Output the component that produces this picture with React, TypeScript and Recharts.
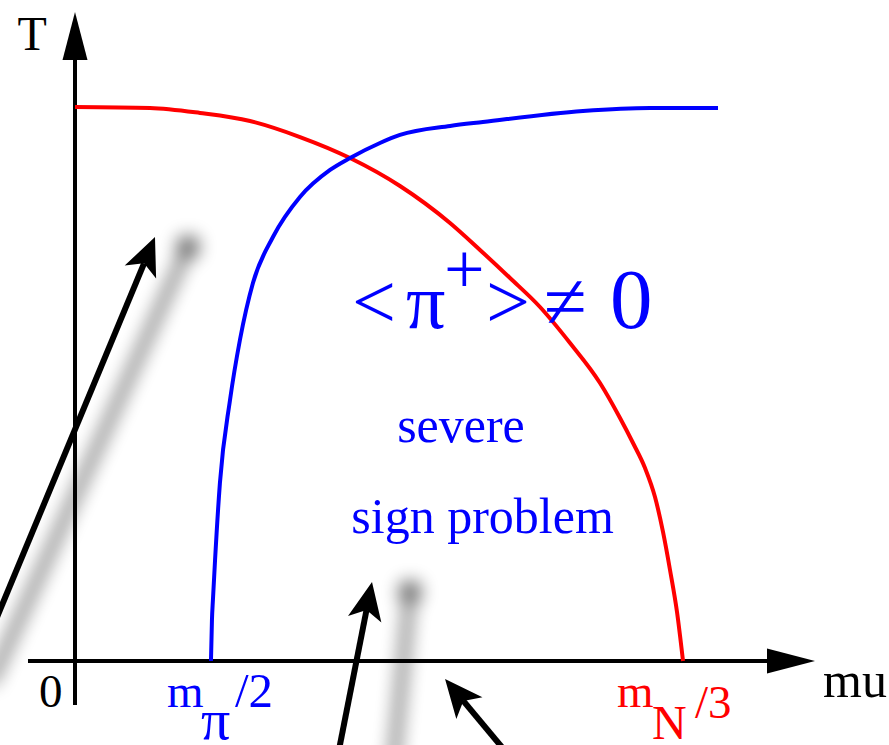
import React from 'react';
import { LineChart, Line, XAxis, YAxis, ReferenceLine, ReferenceDot } from 'recharts';

// Chemical potential mu (MeV) and temperature (T / T0) along the two boundaries
const RED_MU = [0, 38.61, 64.35, 90.09, 115.83, 141.57, 167.31, 193.05, 208.49, 223.94, 239.38, 254.83, 270.27, 280.57, 287.26, 293.44, 298.58, 302.7, 306.31, 309.91, 313];
const RED_T = [1.0, 0.9982, 0.9892, 0.9747, 0.9458, 0.9079, 0.8574, 0.7906, 0.7419, 0.6913, 0.639, 0.574, 0.5018, 0.4386, 0.3935, 0.3484, 0.296, 0.2329, 0.1643, 0.0884, 0];
const BLUE_MU = [70, 70.5, 71, 72.1, 74.6, 79.8, 84.9, 91.6, 101.9, 115.8, 131.3, 141.6, 157, 167.3, 193.1, 210, 261.5, 296, 331];
const BLUE_T = [0, 0.074, 0.1101, 0.1823, 0.3213, 0.4711, 0.5794, 0.6823, 0.7653, 0.8375, 0.8863, 0.9079, 0.935, 0.9495, 0.9657, 0.9729, 0.9928, 0.9982, 0.9982];

// x-axis tick positions: 0, m_pi/2, m_N/3
const TICK_MU = [0, 70, 313];
const TICK_TEXT = [['0'], ['m', 'π', '/2'], ['m', 'N', '/3']];

// axis extents
const MU_MIN = -38.61;
const MU_MAX = 419.04;
const T_MAX = 1.1931;
const Y_AXIS_T = [-0.0794, 1.1715];
const X_AXIS_MU = [-24.2, 380.95];

// pointer arrows: tail (mu, T) -> head (mu, T), with the soft shadow each one casts
const POINTERS = [
  { from: [-48.9, 0.0054], to: [41.18, 0.7653], shadowFrom: [-43.76, -0.0415], shadowTo: [58.17, 0.7473] },
  { from: [133.85, -0.1968], to: [152.9, 0.1426], shadowFrom: [163.7, -0.1968], shadowTo: [172.46, 0.1245] },
  { from: [229.6, -0.1968], to: [190.5, -0.0325], shadowFrom: null, shadowTo: null },
];

const redData = RED_MU.map((mu, i) => ({ mu, T: RED_T[i] }));
const blueData = BLUE_MU.map((mu, i) => ({ mu, T: BLUE_T[i] }));

const SERIF = '"Liberation Serif", "Times New Roman", serif';
const BLUE = '#0000ff';
const RED = '#ff0000';

function arrowPath(x1: number, y1: number, x2: number, y2: number, L: number, W: number, notch: number) {
  const dx = x2 - x1;
  const dy = y2 - y1;
  const len = Math.hypot(dx, dy) || 1;
  const ux = dx / len;
  const uy = dy / len;
  const px = -uy;
  const py = ux;
  const bx = x2 - ux * L;
  const by = y2 - uy * L;
  const nx = x2 - ux * L * notch;
  const ny = y2 - uy * L * notch;
  const head = `M${x2},${y2} L${bx + px * W},${by + py * W} L${nx},${ny} L${bx - px * W},${by - py * W} Z`;
  return { head, sx: nx, sy: ny };
}

function makeArrow(L: number, W: number, notch: number, width: number) {
  return (p: any) => {
    const { x1, y1, x2, y2 } = p;
    const a = arrowPath(x1, y1, x2, y2, L, W, notch);
    return (
      <g>
        <line x1={x1} y1={y1} x2={a.sx} y2={a.sy} stroke="#000" strokeWidth={width} />
        <path d={a.head} fill="#000" />
      </g>
    );
  };
}

// blurred grey streak ending in a soft blob
function makeShadow(id: string) {
  return (p: any) => {
    const { x1, y1, x2, y2 } = p;
    return (
      <g>
        <defs>
          <filter id={id} filterUnits="userSpaceOnUse" x={-200} y={-200} width={1300} height={1200}>
            <feGaussianBlur stdDeviation={9} />
          </filter>
        </defs>
        <g filter={`url(#${id})`} opacity={0.65}>
          <line x1={x1} y1={y1} x2={x2} y2={y2} stroke="#000" strokeWidth={8} />
          <circle cx={x2} cy={y2} r={11} fill="#000" />
        </g>
      </g>
    );
  };
}

const TickLabel = (props: any) => {
  const { x, y, index } = props;
  const parts = TICK_TEXT[index] || [];
  if (index === 0) {
    return (
      <text x={x - 36} y={y + 46} fontFamily={SERIF} fontSize={47} fill="#000">
        {parts[0]}
      </text>
    );
  }
  if (index === 1) {
    return (
      <g fill={BLUE} fontFamily={SERIF}>
        <text x={x - 44} y={y + 46} fontSize={47}>{parts[0]}</text>
        <text x={x - 10} y={y + 78} fontSize={58}>{parts[1]}</text>
        <text x={x + 24} y={y + 46} fontSize={49}>{parts[2]}</text>
      </g>
    );
  }
  return (
    <g fill={RED} fontFamily={SERIF}>
      <text x={x - 66} y={y + 46} fontSize={47}>{parts[0]}</text>
      <text x={x - 31} y={y + 78} fontSize={48}>{parts[1]}</text>
      <text x={x + 12} y={y + 57} fontSize={47}>{parts[2]}</text>
    </g>
  );
};

const textShape = (content: (cx: number, cy: number) => React.ReactElement) => (p: any) => content(p.cx, p.cy);

export default function App() {
  return (
    <div style={{ position: 'absolute', left: 0, top: 0, width: 889, height: 745, background: '#fff' }}>
      <LineChart width={889} height={745} margin={{ top: 0, right: 0, bottom: 0, left: 0 }}>
        <XAxis
          type="number"
          dataKey="mu"
          domain={[MU_MIN, MU_MAX]}
          ticks={TICK_MU}
          interval={0}
          height={84}
          axisLine={false}
          tickLine={false}
          tickSize={0}
          tickMargin={0}
          tick={<TickLabel />}
        />
        <YAxis hide type="number" dataKey="T" domain={[0, T_MAX]} />

        {POINTERS.filter((a) => a.shadowFrom && a.shadowTo).map((a, i) => (
          <ReferenceLine
            key={`shd${i}`}
            ifOverflow="visible"
            segment={[{ x: a.shadowFrom![0], y: a.shadowFrom![1] }, { x: a.shadowTo![0], y: a.shadowTo![1] }]}
            shape={makeShadow(`shadow${i}`)}
          />
        ))}

        {POINTERS.map((a, i) => (
          <ReferenceLine
            key={`ptr${i}`}
            ifOverflow="visible"
            segment={[{ x: a.from[0], y: a.from[1] }, { x: a.to[0], y: a.to[1] }]}
            shape={makeArrow(38, 17, 0.75, 6)}
          />
        ))}

        <ReferenceLine
          ifOverflow="visible"
          segment={[{ x: 0, y: Y_AXIS_T[0] }, { x: 0, y: Y_AXIS_T[1] }]}
          shape={makeArrow(48, 12.5, 1, 4)}
        />
        <ReferenceLine
          ifOverflow="visible"
          segment={[{ x: X_AXIS_MU[0], y: 0 }, { x: X_AXIS_MU[1], y: 0 }]}
          shape={makeArrow(48, 12.5, 1, 4)}
        />

        <Line data={redData} dataKey="T" type="monotone" stroke={RED} strokeWidth={4} dot={false} activeDot={false} isAnimationActive={false} />
        <Line data={blueData} dataKey="T" type="monotone" stroke={BLUE} strokeWidth={4} dot={false} activeDot={false} isAnimationActive={false} />

        <ReferenceDot
          x={-22.1}
          y={1.1029}
          r={0}
          ifOverflow="visible"
          shape={textShape((cx, cy) => (
            <text x={cx} y={cy} textAnchor="middle" fontFamily={SERIF} fontSize={48} fill="#000">T</text>
          ))}
        />
        <ReferenceDot
          x={385.1}
          y={-0.065}
          r={0}
          ifOverflow="visible"
          shape={textShape((cx, cy) => (
            <text x={cx} y={cy} fontFamily={SERIF} fontSize={50} fill="#000">mu</text>
          ))}
        />
        <ReferenceDot
          x={142.6}
          y={0.601}
          r={0}
          ifOverflow="visible"
          shape={textShape((cx, cy) => (
            <g fill={BLUE} fontFamily={SERIF}>
              <text x={cx} y={cy} fontSize={78}>&lt;</text>
              <text x={cx + 54} y={cy} fontSize={78}>π</text>
              <text x={cx + 92} y={cy - 35} fontSize={72}>+</text>
              <text x={cx + 134} y={cy} fontSize={78}>&gt;</text>
              <text x={cx + 192} y={cy} fontSize={78}>≠</text>
              <text x={cx + 258} y={cy} fontSize={85}>0</text>
            </g>
          ))}
        />
        <ReferenceDot
          x={198.7}
          y={0.3953}
          r={0}
          ifOverflow="visible"
          shape={textShape((cx, cy) => (
            <text x={cx} y={cy} textAnchor="middle" fontFamily={SERIF} fontSize={50} fill={BLUE}>severe</text>
          ))}
        />
        <ReferenceDot
          x={209.8}
          y={0.231}
          r={0}
          ifOverflow="visible"
          shape={textShape((cx, cy) => (
            <text x={cx} y={cy} textAnchor="middle" fontFamily={SERIF} fontSize={50} fill={BLUE}>sign problem</text>
          ))}
        />
      </LineChart>
    </div>
  );
}
